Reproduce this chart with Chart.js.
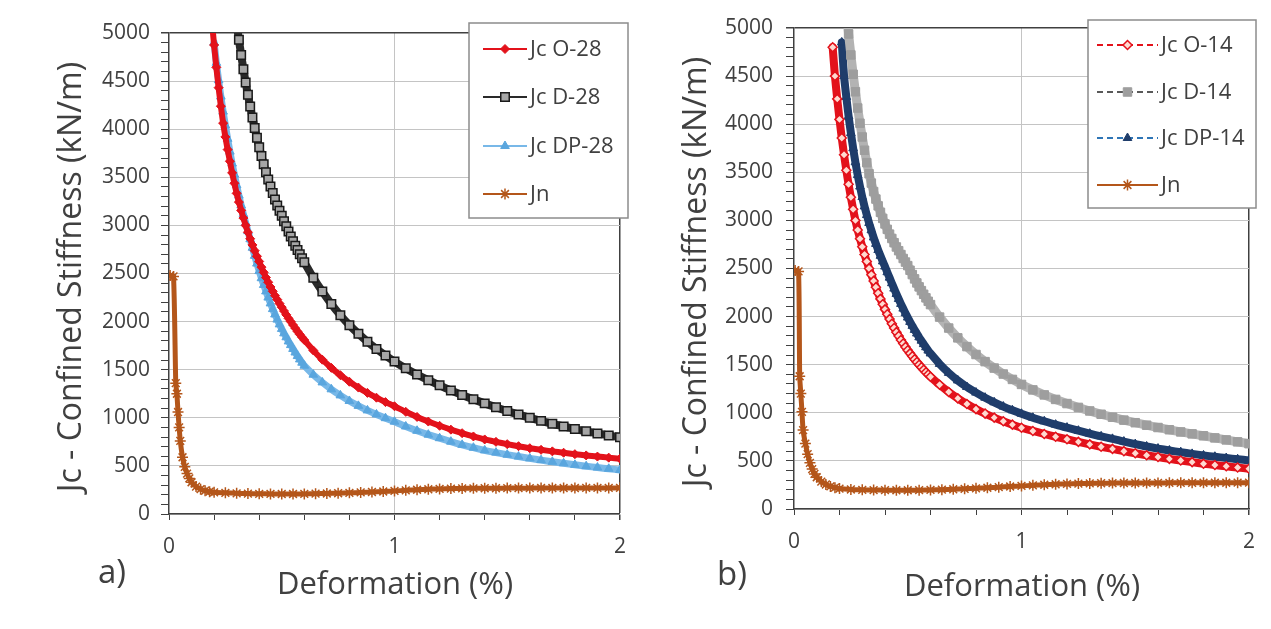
<!DOCTYPE html>
<html>
<head>
<meta charset="utf-8">
<script src="https://cdn.jsdelivr.net/npm/chart.js@4.4.1/dist/chart.umd.min.js"></script>
<style>
  body { margin: 0; background: #fff; width: 1271px; height: 629px; overflow: hidden; position: relative; }
  #wa { position: absolute; left: 0; top: 0; width: 640px; height: 629px; }
  #wb { position: absolute; left: 640px; top: 0; width: 631px; height: 629px; }
</style>
</head>
<body>
<div id="wa"><canvas id="ca"></canvas></div>
<div id="wb"><canvas id="cb"></canvas></div>
<script>
// deformation (%) grid shared by the Jc curves
const xJc = [0.16,0.17,0.18,0.19,0.20,0.21,0.22,0.23,0.24,0.25,0.26,0.27,0.28,0.29,0.30,0.31,0.32,0.33,0.34,0.35,
  0.36,0.37,0.38,0.39,0.40,0.41,0.42,0.43,0.44,0.45,0.46,0.47,0.48,0.49,0.50,0.51,0.52,0.53,0.54,0.55,
  0.56,0.57,0.58,0.59,0.60,0.64,0.68,0.72,0.76,0.80,0.84,0.88,0.92,0.96,1.00,
  1.05,1.10,1.15,1.20,1.25,1.30,1.35,1.40,1.45,1.50,1.55,1.60,1.65,1.70,1.75,1.80,1.85,1.90,1.95,2.00];

// panel a) - 28
const jcO28 = [null,null,null,5130,4875,4643,4432,4239,4063,3920,3788,3667,3546,3438,3333,3242,3156,3076,3000,2929,
  2861,2797,2737,2679,2625,2566,2512,2458,2409,2360,2315,2270,2229,2188,2150,2110,2071,2034,2000,1965,
  1932,1898,1867,1837,1808,1700,1604,1519,1443,1375,1314,1259,1209,1163,1120,
  1062,1009,961,917,877,840,806,775,750,726,705,684,667,651,637,622,609,597,586,575];
const jcD28 = [null,null,null,null,null,null,null,null,null,null,null,null,null,null,5100,4929,4772,4624,4485,4357,
  4236,4122,4013,3910,3813,3722,3636,3553,3477,3404,3337,3270,3208,3153,3100,3043,2990,2936,2885,2836,
  2789,2744,2700,2658,2617,2456,2312,2182,2066,1963,1873,1791,1716,1648,1585,
  1514,1450,1391,1338,1285,1237,1192,1150,1109,1070,1034,1000,968,938,910,883,860,838,817,798];
const jcDP28 = [null,null,null,null,4900,4690,4509,4339,4183,4040,3900,3767,3643,3528,3417,3310,3209,3115,3026,2940,
  2856,2768,2684,2603,2525,2451,2381,2314,2250,2189,2130,2074,2021,1971,1924,1878,1837,1794,1756,1716,
  1679,1642,1607,1573,1542,1448,1368,1296,1233,1175,1124,1077,1035,996,960,
  910,865,825,788,752,719,689,661,638,617,597,578,560,543,527,511,497,483,470,458];
const jnX28 = [0.005,0.02,0.03,0.035,0.04,0.045,0.05,0.06,0.07,0.08,0.09,0.10,0.12,0.14,0.16,0.18,0.20,
  0.25,0.30,0.35,0.40,0.45,0.50,0.55,0.60,0.65,0.70,0.75,0.80,0.85,0.90,0.95,1.00,
  1.05,1.10,1.15,1.20,1.25,1.30,1.35,1.40,1.45,1.50,1.55,1.60,1.65,1.70,1.75,1.80,1.85,1.90,1.95,2.00];
const jn28 = [2480,2470,1360,1250,1060,900,760,590,490,420,370,330,285,258,242,232,225,
  220,215,212,210,209,208,208,209,211,213,216,220,224,229,234,240,
  246,252,257,261,264,266,267,268,268,269,269,269,270,270,270,270,271,271,271,272];

// panel b) - 14
const jcO14 = [null,4800,4500,4263,4050,3857,3682,3522,3375,3240,3115,3000,2900,2810,2727,2645,2572,2500,2435,2371,
  2306,2243,2184,2128,2075,2024,1974,1926,1882,1838,1798,1757,1721,1684,1650,1618,1587,1557,1528,1500,
  1473,1447,1422,1398,1375,1291,1216,1150,1091,1038,992,950,912,877,845,
  811,780,751,725,698,672,647,625,601,580,559,540,521,504,487,471,457,444,431,419];
const jcD14 = [null,null,null,null,null,null,null,5174,4938,4720,4519,4337,4168,4010,3867,3729,3600,3485,3388,3300,
  3222,3151,3084,3021,2963,2907,2857,2812,2768,2724,2685,2645,2604,2567,2530,2482,2437,2392,2350,2309,
  2270,2232,2195,2159,2125,1995,1881,1779,1688,1606,1532,1465,1403,1347,1295,
  1238,1186,1139,1096,1056,1019,985,954,924,897,871,847,824,801,781,761,739,718,698,679];
const jcDP14 = [null,null,null,null,null,4850,4500,4283,4083,3908,3750,3604,3471,3352,3243,3145,3056,2973,2897,2823,
  2756,2692,2632,2574,2520,2461,2405,2347,2291,2236,2183,2132,2083,2035,1990,1945,1904,1862,1824,1785,
  1750,1714,1681,1647,1617,1508,1415,1336,1268,1210,1157,1109,1065,1026,990,
  949,912,877,846,814,783,755,729,701,675,650,628,608,591,573,557,543,530,517,505];
const jnX14 = [0.005,0.02,0.025,0.03,0.035,0.04,0.05,0.06,0.07,0.08,0.09,0.10,0.12,0.14,0.16,0.18,0.20,
  0.25,0.30,0.35,0.40,0.45,0.50,0.55,0.60,0.65,0.70,0.75,0.80,0.85,0.90,0.95,1.00,
  1.05,1.10,1.15,1.20,1.25,1.30,1.35,1.40,1.45,1.50,1.55,1.60,1.65,1.70,1.75,1.80,1.85,1.90,1.95,2.00];
const jn14 = [2480,2470,1380,1200,1010,820,680,570,480,415,365,330,285,255,235,222,212,
  203,199,197,196,195,195,196,198,201,205,210,215,221,227,234,240,
  246,252,257,261,264,266,268,269,270,270,271,271,272,272,272,273,273,273,274,274];

const yMax = 5000, yMajor = 500, yMinor = 100;
const xMax = 2, xMinor = 0.2;

const TXT = '#404040';
const FONT = '"Open Sans", "DejaVu Sans", sans-serif';

function pts(xs, ys) {
  return xs.map((x, i) => ({ x: x, y: ys[i] })).filter((p) => p.y !== null);
}

function isInt(v) { return Math.abs(v - Math.round(v)) < 1e-6; }

function marker(c, style, x, y, r, fill, stroke, lw) {
  c.save();
  c.beginPath();
  if (style === 'rectRot') {
    c.moveTo(x, y - r); c.lineTo(x + r, y); c.lineTo(x, y + r); c.lineTo(x - r, y); c.closePath();
  } else if (style === 'rect') {
    const s = r * Math.SQRT1_2;
    c.rect(x - s, y - s, 2 * s, 2 * s);
  } else if (style === 'triangle') {
    c.moveTo(x, y - r); c.lineTo(x + r * 0.866, y + r * 0.5); c.lineTo(x - r * 0.866, y + r * 0.5); c.closePath();
  } else {
    const d = r * Math.SQRT1_2;
    c.moveTo(x - d, y - d); c.lineTo(x + d, y + d);
    c.moveTo(x + d, y - d); c.lineTo(x - d, y + d);
    c.moveTo(x, y - r); c.lineTo(x, y + r);
  }
  c.lineWidth = lw;
  if (style !== 'star') { c.fillStyle = fill; c.fill(); }
  if (lw > 0) { c.strokeStyle = stroke; c.stroke(); }
  c.restore();
}

function makePanel(id, o) {
  const deco = {
    id: 'deco',
    afterDraw(chart) {
      const c = chart.ctx;
      c.save();
      c.fillStyle = TXT;
      c.textAlign = 'center';
      c.textBaseline = 'middle';
      c.font = '31px ' + FONT;
      c.fillText('Deformation (%)', o.xTitle[0], o.xTitle[1]);
      c.save();
      c.translate(o.yTitle[0], o.yTitle[1]);
      c.rotate(-Math.PI / 2);
      c.font = '32px ' + FONT;
      c.fillText('Jc - Confined Stiffness (kN/m)', 0, 0);
      c.restore();
      c.font = '33px ' + FONT;
      c.fillText(o.tag, o.tagPos[0], o.tagPos[1]);

      // legend box
      const L = o.legend;
      c.fillStyle = '#fff';
      c.fillRect(L.x, L.y, L.w, L.h);
      c.strokeStyle = '#8c8c8c';
      c.lineWidth = 1.5;
      c.strokeRect(L.x, L.y, L.w, L.h);
      chart.data.datasets.forEach((ds, i) => {
        const y = L.rows[i];
        c.strokeStyle = ds.legendColor;
        c.lineWidth = 2;
        c.setLineDash(ds.legendDash || []);
        c.beginPath(); c.moveTo(L.x0, y); c.lineTo(L.x1, y); c.stroke();
        c.setLineDash([]);
        marker(c, ds.pointStyle, (L.x0 + L.x1) / 2, y, ds.pointRadius,
          ds.pointBackgroundColor, ds.pointBorderColor, ds.pointBorderWidth);
        c.fillStyle = TXT;
        c.font = '22px ' + FONT;
        c.textAlign = 'left';
        c.fillText(ds.label, L.tx, y + 1);
      });
      c.restore();
    }
  };

  return new Chart(document.getElementById(id), {
    type: 'line',
    data: { datasets: o.datasets },
    plugins: [deco],
    options: {
      responsive: true,
      maintainAspectRatio: false,
      animation: false,
      events: [],
      layout: { padding: { left: 0, top: o.padTop, right: o.padRight, bottom: 0 } },
      elements: { line: { tension: 0.2, borderCapStyle: 'round', borderJoinStyle: 'round' } },
      plugins: { legend: { display: false }, tooltip: { enabled: false } },
      scales: {
        x: {
          type: 'linear',
          min: 0,
          max: xMax,
          afterFit: (s) => { s.height = o.xHeight; },
          ticks: {
            stepSize: xMinor,
            autoSkip: false,
            maxRotation: 0,
            padding: 14,
            color: TXT,
            font: { family: FONT, size: 21 },
            callback: (v) => (isInt(v) ? Math.round(v) : '')
          },
          grid: {
            color: (ctx) => {
              const v = ctx.tick.value;
              if (Math.abs(v - xMax) < 1e-6) return '#404040';
              if (isInt(v) && v > 0) return '#c4c4c4';
              return 'rgba(0,0,0,0)';
            },
            lineWidth: (ctx) => (Math.abs(ctx.tick.value - xMax) < 1e-6 ? 1.5 : 1),
            tickColor: '#404040',
            tickLength: 6
          },
          border: { color: '#404040', width: 1.5 }
        },
        y: {
          min: 0,
          max: yMax,
          afterFit: (s) => { s.width = o.yWidth; },
          ticks: {
            stepSize: yMinor,
            autoSkip: false,
            padding: o.yPad,
            color: TXT,
            font: { family: FONT, size: 21 },
            callback: (v) => (Math.round(v) % yMajor === 0 ? Math.round(v) : '')
          },
          grid: {
            color: (ctx) => {
              const v = Math.round(ctx.tick.value);
              if (v === yMax) return '#404040';
              if (v % yMajor === 0) return '#c4c4c4';
              return 'rgba(0,0,0,0)';
            },
            lineWidth: (ctx) => (Math.round(ctx.tick.value) === yMax ? 1.5 : 1),
            tickColor: '#404040',
            tickLength: 8
          },
          border: { color: '#404040', width: 1.5 }
        }
      }
    }
  });
}

const brown = '#b4561a';

makePanel('ca', {
  yWidth: 169, padTop: 33, padRight: 20, xHeight: 115, yPad: 11,
  xTitle: [395, 585], yTitle: [72, 277], tag: 'a)', tagPos: [112, 574],
  legend: { x: 469, y: 23, w: 159, h: 195, rows: [49, 97, 146, 194], x0: 483, x1: 527, tx: 530 },
  datasets: [
    { label: 'Jc O-28', data: pts(xJc, jcO28), borderColor: '#e3121b', borderWidth: 6, legendColor: '#e3121b',
      pointStyle: 'rectRot', pointRadius: 4.5, pointBackgroundColor: '#e3121b', pointBorderColor: '#e3121b', pointBorderWidth: 1 },
    { label: 'Jc D-28', data: pts(xJc, jcD28), borderColor: '#2a2a2a', borderWidth: 8, legendColor: '#2a2a2a',
      pointStyle: 'rect', pointRadius: 6, pointBackgroundColor: '#a6a6a6', pointBorderColor: '#1a1a1a', pointBorderWidth: 1.5 },
    { label: 'Jc DP-28', data: pts(xJc, jcDP28), borderColor: '#78b8e8', borderWidth: 7, legendColor: '#78b8e8',
      pointStyle: 'triangle', pointRadius: 5, pointBackgroundColor: '#5aa6de', pointBorderColor: '#5aa6de', pointBorderWidth: 1 },
    { label: 'Jn', data: pts(jnX28, jn28), borderColor: brown, borderWidth: 5, legendColor: brown,
      pointStyle: 'star', pointRadius: 5.5, pointBackgroundColor: brown, pointBorderColor: brown, pointBorderWidth: 1.5 }
  ]
});

makePanel('cb', {
  yWidth: 154, padTop: 28, padRight: 22, xHeight: 120, yPad: 13,
  xTitle: [382, 587], yTitle: [57, 272], tag: 'b)', tagPos: [92, 576],
  legend: { x: 448, y: 20, w: 168, h: 188, rows: [45, 92, 138, 185], x0: 457, x1: 518, tx: 521 },
  datasets: [
    { label: 'Jc O-14', data: pts(xJc, jcO14), borderColor: '#e3121b', borderWidth: 8, legendColor: '#e3121b', legendDash: [6, 4],
      pointStyle: 'rectRot', pointRadius: 4.5, pointBackgroundColor: '#ffd9d0', pointBorderColor: '#e3121b', pointBorderWidth: 1.5 },
    { label: 'Jc D-14', data: pts(xJc, jcD14), borderColor: '#b3b3b3', borderWidth: 9, legendColor: '#595959', legendDash: [6, 4],
      pointStyle: 'rect', pointRadius: 6, pointBackgroundColor: '#9e9e9e', pointBorderColor: '#9e9e9e', pointBorderWidth: 1 },
    { label: 'Jc DP-14', data: pts(xJc, jcDP14), borderColor: '#1f3d6b', borderWidth: 8, legendColor: '#2e75b6', legendDash: [6, 4],
      pointStyle: 'triangle', pointRadius: 5, pointBackgroundColor: '#1f3d6b', pointBorderColor: '#1f3d6b', pointBorderWidth: 1 },
    { label: 'Jn', data: pts(jnX14, jn14), borderColor: brown, borderWidth: 5, legendColor: brown,
      pointStyle: 'star', pointRadius: 5.5, pointBackgroundColor: brown, pointBorderColor: brown, pointBorderWidth: 1.5 }
  ]
});
</script>
</body>
</html>
